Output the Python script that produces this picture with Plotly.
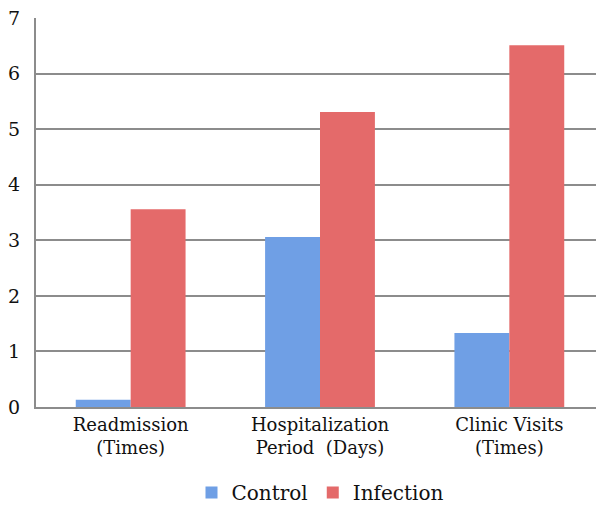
import plotly.graph_objects as go

categories = ["Readmission<br>(Times)", "Hospitalization<br>Period  (Days)", "Clinic Visits<br>(Times)"]
control = [0.13, 3.06, 1.33]
infection = [3.56, 5.31, 6.51]
y_ticks = [0, 1, 2, 3, 4, 5, 6, 7]

font_family = "DejaVu Serif"

fig = go.Figure()
fig.add_trace(go.Bar(x=categories, y=control, name="Control",
                     marker=dict(color="#6f9fe5", line=dict(width=0))))
fig.add_trace(go.Bar(x=categories, y=infection, name="Infection",
                     marker=dict(color="#e46a6a", line=dict(width=0))))

fig.update_layout(
    width=596, height=498,
    margin=dict(l=28, r=0, t=10, b=99, autoexpand=False),
    paper_bgcolor="white", plot_bgcolor="white",
    barmode="group", bargap=0.42, bargroupgap=0,
    font=dict(family=font_family, size=18, color="#111111"),
    legend=dict(orientation="h", x=0.5, xanchor="center", y=-0.22, yanchor="middle",
                font=dict(size=20), itemwidth=30, traceorder="normal"),
    showlegend=True,
)
fig.update_yaxes(range=[0, 7], tickvals=y_ticks, showgrid=True, gridcolor="#8c8c8c",
                 gridwidth=1.5, showline=True, linecolor="#8c8c8c", linewidth=2,
                 ticks="", zeroline=False, tickfont=dict(size=19), ticklabelstandoff=10,
                 ticklabeloverflow="allow")
fig.update_xaxes(showline=True, linecolor="#8c8c8c", linewidth=2, ticks="",
                 tickfont=dict(size=18))

fig.write_html("out.html")
